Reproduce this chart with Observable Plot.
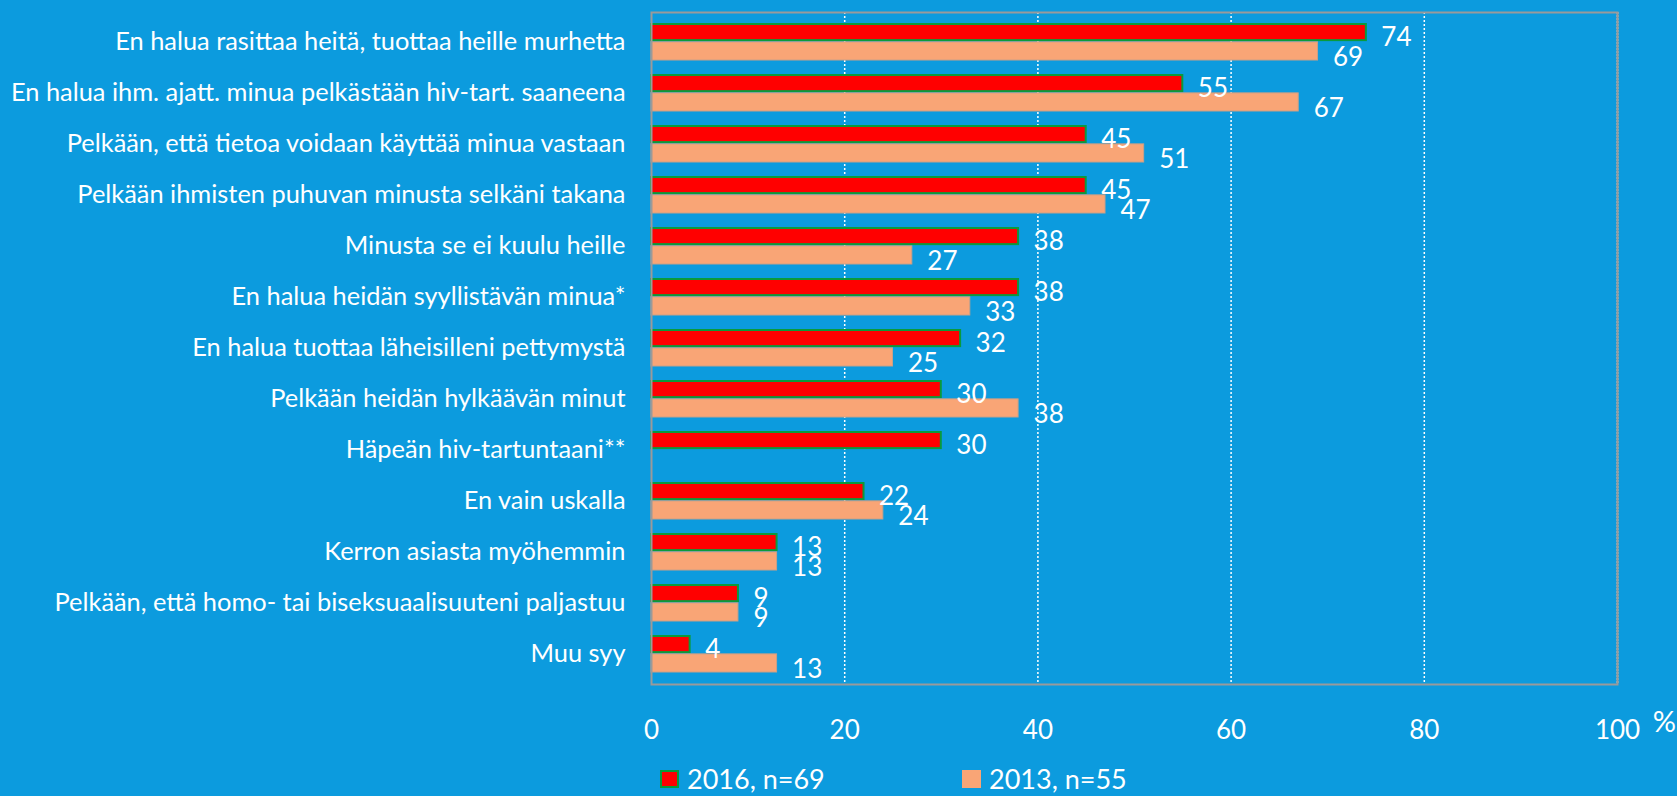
<!DOCTYPE html>
<html>
<head>
<meta charset="utf-8">
<script src="https://cdn.jsdelivr.net/npm/d3@7"></script>
<script src="https://cdn.jsdelivr.net/npm/@observablehq/plot@0.6"></script>
<style>
  html, body { margin: 0; padding: 0; background: #0c9bde; width: 1677px; height: 796px; overflow: hidden; }
  body { font-family: Lato, "Open Sans", sans-serif; color: white; }
  #legend { position: relative; height: 46px; font-size: 27px; }
  #legend .item { position: absolute; top: 13px; display: flex; align-items: center; line-height: 32px; }
  #legend .sw { width: 19px; height: 18px; box-sizing: border-box; margin-right: 8px; }
</style>
</head>
<body>
<div id="chart"></div>
<div id="legend"></div>
<script>
const categories = [
  "En halua rasittaa heitä, tuottaa heille murhetta",
  "En halua ihm. ajatt. minua pelkästään hiv-tart. saaneena",
  "Pelkään, että tietoa voidaan käyttää minua vastaan",
  "Pelkään ihmisten puhuvan minusta selkäni takana",
  "Minusta se ei kuulu heille",
  "En halua heidän syyllistävän minua*",
  "En halua tuottaa läheisilleni pettymystä",
  "Pelkään heidän hylkäävän minut",
  "Häpeän hiv-tartuntaani**",
  "En vain uskalla",
  "Kerron asiasta myöhemmin",
  "Pelkään, että homo- tai biseksuaalisuuteni paljastuu",
  "Muu syy"
];
const values2016 = [74, 55, 45, 45, 38, 38, 32, 30, 30, 22, 13, 9, 4];
const values2013 = [69, 67, 51, 47, 27, 33, 25, 38, null, 24, 13, 9, 13];
const seriesNames = ["2016, n=69", "2013, n=55"];
const xTicks = [0, 20, 40, 60, 80, 100];
const gridTicks = [20, 40, 60, 80];

const C_BG = "#0c9bde", C_RED = "#ff0000", C_RED_EDGE = "#0a9a3c", C_ORANGE = "#f9a576";

const data2016 = categories.map((c, i) => ({cat: c, value: values2016[i]}));
const data2013 = categories.map((c, i) => ({cat: c, value: values2013[i]})).filter(d => d.value != null);

const W = 1677, H = 750, mL = 651, mR = 60, mT = 12, mB = 66;
const step = (H - mT - mB) / categories.length;
const half = step * 0.73 / 2;

const chart = Plot.plot({
  width: W, height: H,
  marginLeft: mL, marginRight: mR, marginTop: mT, marginBottom: mB,
  style: {background: "transparent", color: "white", fontFamily: "Lato, 'Open Sans', sans-serif", overflow: "visible"},
  x: {domain: [0, 100]},
  y: {domain: categories, paddingInner: 0.27, paddingOuter: 0.135},
  marks: [
    Plot.ruleX(gridTicks, {stroke: "white", strokeDasharray: "2,2", strokeWidth: 1.5}),
    Plot.barX(data2016, {x: "value", y: "cat", fill: C_RED, stroke: C_RED_EDGE, strokeWidth: 2, insetBottom: half + 1, insetTop: 1}),
    Plot.barX(data2013, {x: "value", y: "cat", fill: C_ORANGE, stroke: "#c8a088", strokeWidth: 1, insetTop: half}),
    Plot.ruleX([100], {stroke: "#c8c8c8", strokeWidth: 2, strokeDasharray: "2,1"}),
    Plot.frame({stroke: "#9a9a9a", strokeWidth: 2}),
    Plot.text(data2016, {x: "value", y: "cat", text: d => String(d.value), textAnchor: "start", dx: 15, dy: -half / 2 + 5, fill: "white", fontSize: 26}),
    Plot.text(data2013, {x: "value", y: "cat", text: d => String(d.value), textAnchor: "start", dx: 15, dy: half / 2 + 6, fill: "white", fontSize: 26}),
    Plot.axisY({tickSize: 0, tickPadding: 26, fontSize: 25.4, label: null}),
    Plot.axisX({ticks: xTicks, tickSize: 0, tickPadding: 36, fontSize: 26, label: "%", labelAnchor: "right", labelArrow: "none", labelOffset: 48})
  ]
});
document.getElementById("chart").appendChild(chart);

// move the "%" axis label to the right of the last tick, slightly above the tick labels
d3.select(chart).selectAll('[aria-label="x-axis label"]')
  .attr("transform", "translate(59,48)")
  .attr("font-size", 29);

// legend
const legend = d3.select("#legend");
const legendItems = [
  {name: seriesNames[0], fill: C_RED, border: "2px solid " + C_RED_EDGE, left: 660},
  {name: seriesNames[1], fill: C_ORANGE, border: "none", left: 962}
];
legendItems.forEach(it => {
  const item = legend.append("div").attr("class", "item").style("left", it.left + "px");
  item.append("div").attr("class", "sw").style("background", it.fill).style("border", it.border);
  item.append("span").text(it.name);
});
</script>
</body>
</html>
